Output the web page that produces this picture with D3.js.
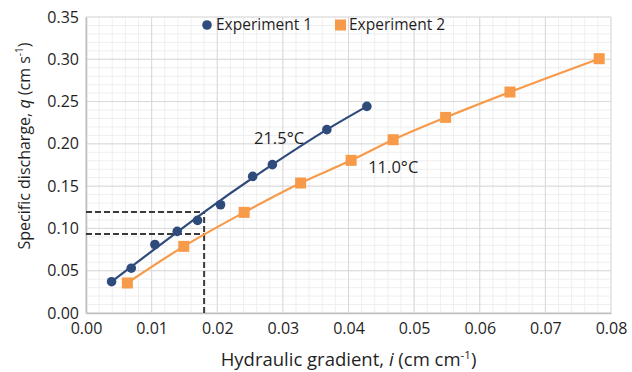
<!DOCTYPE html>
<html lang="en">
<head>
<meta charset="UTF-8">
<title>Specific discharge vs hydraulic gradient</title>
<script src="https://d3js.org/d3.v7.min.js"></script>
<style>
  body { margin: 0; background: #fff; font-family: "Open Sans", sans-serif; }
  svg text { fill: #1f1f1f; }
</style>
</head>
<body>
<svg id="chart" width="632" height="372"></svg>
<script>
// Experiment 1 (21.5°C), blue circles
const exp1I = [0.0039, 0.0069, 0.0105, 0.0139, 0.0170, 0.0205, 0.0254, 0.0284, 0.0367, 0.0428];
const exp1Q = [0.037, 0.053, 0.081, 0.0965, 0.1095, 0.128, 0.1615, 0.1754, 0.2168, 0.2443];
// Experiment 2 (11.0°C), orange squares
const exp2I = [0.0063, 0.0149, 0.0241, 0.0327, 0.0404, 0.0468, 0.0548, 0.0646, 0.0782];
const exp2Q = [0.0355, 0.0788, 0.119, 0.1537, 0.1805, 0.2049, 0.2313, 0.2613, 0.3007];
// trend curve for experiment 1 as drawn in the picture
const fit1I = [0.0039, 0.0100, 0.0180, 0.0284, 0.0367, 0.0428];
const fit1Q = [0.037, 0.0729, 0.1194, 0.1754, 0.2168, 0.2443];
// dashed read-off lines
const guideI = 0.018;
const guideQ = [0.1194, 0.0934];
// annotations
const labels = [
  { text: "21.5°C", i: 0.0256, q: 0.2002 },
  { text: "11.0°C", i: 0.0430, q: 0.166 }
];
const xTicks = [0, 0.01, 0.02, 0.03, 0.04, 0.05, 0.06, 0.07, 0.08];
const yTicks = [0, 0.05, 0.10, 0.15, 0.20, 0.25, 0.30, 0.35];

const blue = "#2f4b7c", orange = "#f79a4a";
const margin = { top: 17, left: 86 };
const width = 525, height = 296;

const svg = d3.select("#chart");
const g = svg.append("g").attr("transform", `translate(${margin.left},${margin.top})`);

const x = d3.scaleLinear().domain([0, 0.08]).range([0, width]);
const y = d3.scaleLinear().domain([0, 0.35]).range([height, 0]);

// minor grid
g.append("g").selectAll("line")
  .data(d3.range(0, 0.0801, 0.002))
  .enter().append("line")
  .attr("x1", d => x(d)).attr("x2", d => x(d))
  .attr("y1", 0).attr("y2", height)
  .attr("stroke", "#efefef");
g.append("g").selectAll("line")
  .data(d3.range(0, 0.3501, 0.01))
  .enter().append("line")
  .attr("x1", 0).attr("x2", width)
  .attr("y1", d => y(d)).attr("y2", d => y(d))
  .attr("stroke", "#efefef");

// major grid
g.append("g").selectAll("line")
  .data(xTicks)
  .enter().append("line")
  .attr("x1", d => x(d)).attr("x2", d => x(d))
  .attr("y1", 0).attr("y2", height)
  .attr("stroke", "#d9d9d9");
g.append("g").selectAll("line")
  .data(yTicks)
  .enter().append("line")
  .attr("x1", 0).attr("x2", width)
  .attr("y1", d => y(d)).attr("y2", d => y(d))
  .attr("stroke", "#d9d9d9");

// axes
const xAxis = g.append("g")
  .attr("transform", `translate(0,${height})`)
  .call(d3.axisBottom(x).tickValues(xTicks).tickFormat(d3.format(".2f")).tickSize(0).tickPadding(10));
const yAxis = g.append("g")
  .call(d3.axisLeft(y).tickValues(yTicks).tickFormat(d3.format(".2f")).tickSize(0).tickPadding(7));
[xAxis, yAxis].forEach(a => {
  a.select(".domain").attr("stroke", "#bfbfbf").attr("stroke-width", 1.6);
  a.selectAll("text").attr("font-family", "Open Sans").attr("font-size", 16).attr("fill", "#1f1f1f");
});

// dashed guides
const dash = g.append("g")
  .attr("stroke", "#3a3a3a").attr("stroke-width", 2)
  .attr("stroke-dasharray", "6,3").attr("fill", "none");
guideQ.forEach(q => {
  dash.append("line").attr("x1", x(0)).attr("x2", x(guideI)).attr("y1", y(q)).attr("y2", y(q));
});
dash.append("line").attr("x1", x(guideI)).attr("x2", x(guideI)).attr("y1", y(0)).attr("y2", y(d3.max(guideQ)));

// trend lines
const line = d3.line().x(d => x(d[0])).y(d => y(d[1])).curve(d3.curveMonotoneX);
g.append("path")
  .datum(fit1I.map((v, k) => [v, fit1Q[k]]))
  .attr("d", line).attr("fill", "none").attr("stroke", blue).attr("stroke-width", 2.2);
g.append("path")
  .datum(exp2I.map((v, k) => [v, exp2Q[k]]))
  .attr("d", line).attr("fill", "none").attr("stroke", orange).attr("stroke-width", 2.2);

// markers
g.append("g").selectAll("circle")
  .data(exp1I.map((v, k) => [v, exp1Q[k]]))
  .enter().append("circle")
  .attr("cx", d => x(d[0])).attr("cy", d => y(d[1]))
  .attr("r", 4.8).attr("fill", blue);
g.append("g").selectAll("rect")
  .data(exp2I.map((v, k) => [v, exp2Q[k]]))
  .enter().append("rect")
  .attr("x", d => x(d[0]) - 5.5).attr("y", d => y(d[1]) - 5.5)
  .attr("width", 11).attr("height", 11).attr("fill", orange);

// temperature labels
g.selectAll(".lbl")
  .data(labels)
  .enter().append("text")
  .attr("class", "lbl")
  .attr("x", d => x(d.i)).attr("y", d => y(d.q))
  .attr("font-size", 16.5)
  .text(d => d.text);

// legend
const legend = svg.append("g").attr("font-size", 15.5);
legend.append("circle").attr("cx", 207).attr("cy", 25).attr("r", 4.8).attr("fill", blue);
legend.append("text").attr("x", 216).attr("y", 25).attr("dy", "0.35em").text("Experiment 1");
legend.append("rect").attr("x", 335).attr("y", 19.5).attr("width", 11).attr("height", 11).attr("fill", orange);
legend.append("text").attr("x", 349).attr("y", 25).attr("dy", "0.35em").text("Experiment 2");

// axis titles
const xt = svg.append("text")
  .attr("x", margin.left + width / 2).attr("y", 366)
  .attr("text-anchor", "middle").attr("font-size", 18.5);
xt.append("tspan").text("Hydraulic gradient, ");
xt.append("tspan").attr("font-style", "italic").text("i");
xt.append("tspan").text(" (cm cm");
xt.append("tspan").attr("font-size", 11.5).attr("dy", -7).text("-1");
xt.append("tspan").attr("dy", 7).text(")");

const yt = svg.append("text")
  .attr("transform", "translate(30,146) rotate(-90)")
  .attr("text-anchor", "middle").attr("font-size", 16);
yt.append("tspan").text("Specific discharge, ");
yt.append("tspan").attr("font-style", "italic").text("q");
yt.append("tspan").text(" (cm s");
yt.append("tspan").attr("font-size", 10).attr("dy", -7).text("-1");
yt.append("tspan").attr("dy", 7).text(")");
</script>
</body>
</html>
